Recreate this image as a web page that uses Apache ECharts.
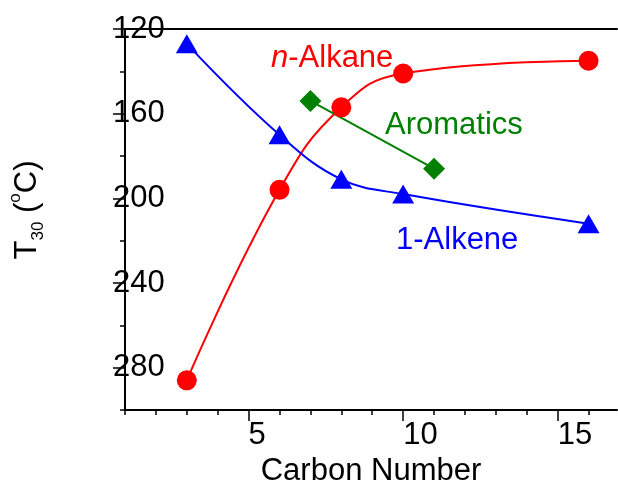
<!DOCTYPE html>
<html>
<head>
<meta charset="utf-8">
<script src="https://cdn.jsdelivr.net/npm/echarts@6/dist/echarts.min.js"></script>
<style>
  html, body { margin: 0; padding: 0; background: #fff; }
  #chart { width: 618px; height: 482px; }
</style>
</head>
<body>
<div id="chart"></div>
<script>
// data
const carbon = [3, 6, 8, 10, 16]
const alkaneT = [286, 196, 157, 141, 135]
const alkeneT = [127, 170, 191, 198, 212]
const aromCarbon = [7, 11]
const aromT = [154, 186]

const xMajor = [5, 10, 15]
const xMinor = [1, 2, 3, 4, 5, 6, 7, 8, 9, 10, 11, 12, 13, 14, 15, 16]
const yMajor = [120, 160, 200, 240, 280]
const yMinor = [140, 180, 220, 260, 300]

const FONT = "Liberation Sans, Arial, sans-serif"
const FS = 31
const pairs = (xs, ys) => xs.map((x, i) => [x, ys[i]])

let myChart = echarts.init(document.getElementById("chart"))

const baseX = { type: "value", min: 1, max: 16.92, splitLine: { show: false } }
const baseY = { type: "value", min: 120, max: 300, inverse: true, position: "left", splitLine: { show: false } }

myChart.setOption({
  animation: false,
  backgroundColor: "#fff",
  grid: { left: 125, right: 1, top: 29, bottom: 72, outerBoundsMode: "none", containLabel: false },
  xAxis: [
    Object.assign({}, baseX, {
      axisLine: { lineStyle: { color: "#000", width: 2 } },
      axisTick: { customValues: xMinor, length: 5, lineStyle: { color: "#000", width: 1.5 } },
      axisLabel: { show: false }
    }),
    Object.assign({}, baseX, {
      position: "bottom",
      axisLine: { show: false },
      axisTick: { customValues: xMajor, length: 11, lineStyle: { color: "#000", width: 1.5 } },
      axisLabel: { customValues: xMajor, align: "left", margin: 10, color: "#000", fontSize: FS, fontFamily: FONT },
      name: "Carbon Number",
      nameLocation: "middle",
      nameGap: 42,
      nameTextStyle: { color: "#000", fontSize: FS, fontFamily: FONT }
    }),
    Object.assign({}, baseX, {
      position: "top",
      axisLine: { lineStyle: { color: "#000", width: 2 } },
      axisTick: { show: false },
      axisLabel: { show: false }
    })
  ],
  yAxis: [
    Object.assign({}, baseY, {
      axisLine: { lineStyle: { color: "#000", width: 2 } },
      axisTick: { customValues: yMinor, length: 5, lineStyle: { color: "#000", width: 1.5 } },
      axisLabel: { show: false }
    }),
    Object.assign({}, baseY, {
      axisLine: { show: false },
      axisTick: { customValues: yMajor, length: 12, lineStyle: { color: "#000", width: 1.5 } },
      axisLabel: { customValues: yMajor, align: "left", margin: 12, color: "#000", fontSize: FS, fontFamily: FONT }
    })
  ],
  graphic: [
    {
      type: "text", x: 27, y: 210, rotation: Math.PI / 2,
      style: {
        text: "{t|T}{s|30}{t| (}{p|o}{t|C)}",
        align: "center", verticalAlign: "middle",
        rich: {
          t: { fontSize: FS, fontFamily: FONT, fill: "#000", lineHeight: 40 },
          s: { fontSize: 17, fontFamily: FONT, fill: "#000", lineHeight: 18, verticalAlign: "bottom" },
          p: { fontSize: 17, fontFamily: FONT, fill: "#000", lineHeight: 30, verticalAlign: "top" }
        }
      }
    },
    {
      type: "text", x: 271, y: 58,
      style: {
        text: "{i|n}{r|-Alkane}",
        align: "left", verticalAlign: "middle",
        rich: {
          i: { fontSize: FS, fontFamily: FONT, fontStyle: "italic", fill: "#ff0000" },
          r: { fontSize: FS, fontFamily: FONT, fill: "#ff0000" }
        }
      }
    },
    {
      type: "text", x: 385, y: 125,
      style: { text: "Aromatics", font: FS + "px " + FONT, fill: "#008000", align: "left", verticalAlign: "middle" }
    },
    {
      type: "text", x: 396, y: 240,
      style: { text: "1-Alkene", font: FS + "px " + FONT, fill: "#0000ff", align: "left", verticalAlign: "middle" }
    }
  ],
  series: [
    {
      name: "n-Alkane",
      type: "line",
      data: pairs(carbon, alkaneT),
      smooth: 0.45,
      symbol: "circle",
      symbolSize: 20,
      itemStyle: { color: "#ff0000" },
      lineStyle: { color: "#ff0000", width: 2 }
    },
    {
      name: "1-Alkene",
      type: "line",
      data: pairs(carbon, alkeneT),
      smooth: 0.4,
      symbol: "triangle",
      symbolSize: [22, 19],
      itemStyle: { color: "#0000ff" },
      lineStyle: { color: "#0000ff", width: 2 }
    },
    {
      name: "Aromatics",
      type: "line",
      data: pairs(aromCarbon, aromT),
      symbol: "diamond",
      symbolSize: 22,
      itemStyle: { color: "#008000" },
      lineStyle: { color: "#008000", width: 2 }
    }
  ]
})
</script>
</body>
</html>
